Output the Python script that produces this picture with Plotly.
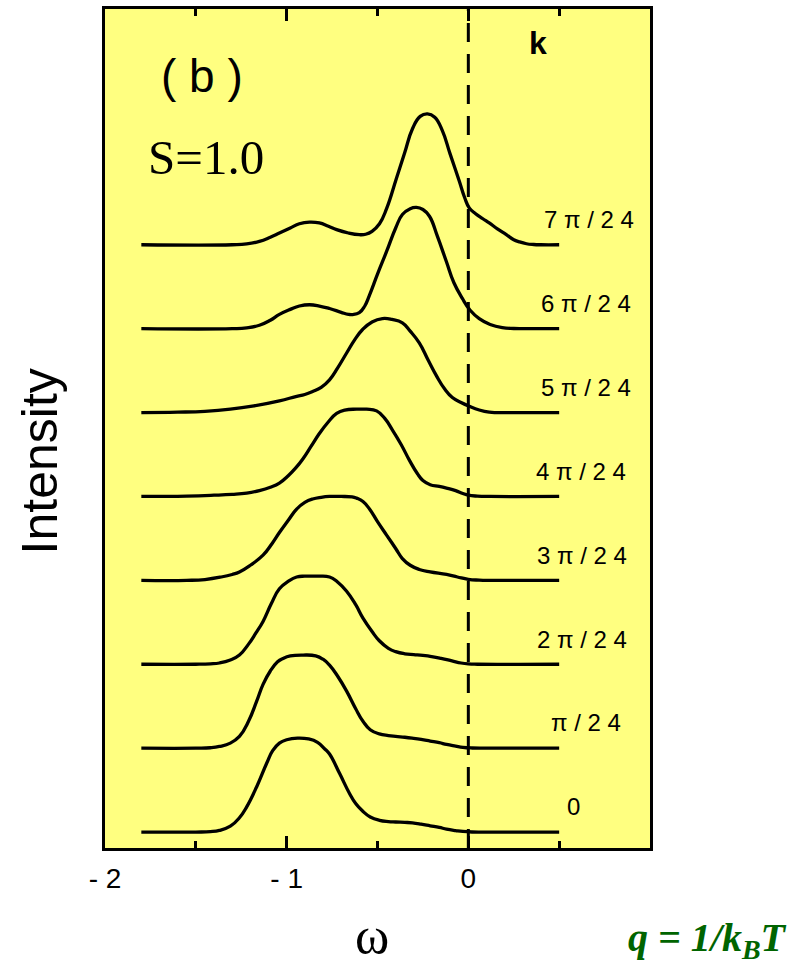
import plotly.graph_objects as go

# ---------------- data ----------------
k_labels = ["0", "π / 2 4", "2 π / 2 4", "3 π / 2 4", "4 π / 2 4",
            "5 π / 2 4", "6 π / 2 4", "7 π / 2 4"]
offsets = [0, 1, 2, 3, 4, 5, 6, 7]

omega_0 = [-1.80, -1.50, -1.42, -1.37, -1.31, -1.26, -1.22, -1.165, -1.11, -1.077, -1.04, -1.00,
           -0.94, -0.88, -0.83, -0.79, -0.764, -0.709, -0.654, -0.62, -0.582, -0.54, -0.489,
           -0.44, -0.40, -0.35, -0.308, -0.26, -0.21, -0.16, -0.12, -0.07, -0.03, 0.02, 0.10, 0.50]
inten_0 = [0, 0, 0.005, 0.02, 0.07, 0.17, 0.30, 0.54, 0.82, 0.97, 1.06, 1.10,
           1.12, 1.11, 1.07, 0.99, 0.93, 0.70, 0.46, 0.34, 0.25, 0.18, 0.14,
           0.125, 0.12, 0.115, 0.11, 0.095, 0.075, 0.055, 0.035, 0.018, 0.007, 0.001, 0, 0]

omega_1 = [-1.80, -1.50, -1.42, -1.37, -1.31, -1.26, -1.21, -1.165, -1.13, -1.09, -1.05, -1.02,
           -0.98, -0.91, -0.84, -0.80, -0.764, -0.72, -0.67, -0.62, -0.58, -0.54, -0.49,
           -0.44, -0.40, -0.35, -0.31, -0.26, -0.21, -0.16, -0.12, -0.07, -0.03, 0.02, 0.10, 0.50]
inten_1 = [0, 0, 0.005, 0.02, 0.06, 0.14, 0.32, 0.56, 0.76, 0.92, 1.03, 1.07,
           1.10, 1.11, 1.10, 1.06, 0.99, 0.86, 0.68, 0.47, 0.32, 0.22, 0.17,
           0.15, 0.14, 0.13, 0.12, 0.105, 0.085, 0.065, 0.045, 0.025, 0.01, 0.002, 0, 0]

omega_2 = [-1.80, -1.50, -1.42, -1.37, -1.31, -1.26, -1.21, -1.17, -1.13, -1.085, -1.04, -0.99,
           -0.945, -0.90, -0.83, -0.764, -0.72, -0.67, -0.62, -0.58, -0.53, -0.49, -0.44,
           -0.40, -0.35, -0.30, -0.25, -0.21, -0.15, -0.09, -0.04, 0.0, 0.05, 0.50]
inten_2 = [0, 0, 0.005, 0.015, 0.05, 0.11, 0.24, 0.37, 0.51, 0.72, 0.90, 0.99,
           1.04, 1.05, 1.05, 1.04, 0.98, 0.87, 0.71, 0.55, 0.39, 0.28, 0.19,
           0.15, 0.125, 0.115, 0.105, 0.095, 0.07, 0.04, 0.015, 0.004, 0, 0]

omega_3 = [-1.80, -1.55, -1.45, -1.36, -1.30, -1.26, -1.20, -1.13, -1.08, -1.04, -0.99, -0.945,
           -0.90, -0.857, -0.81, -0.764, -0.70, -0.64, -0.615, -0.58, -0.544, -0.50, -0.45,
           -0.40, -0.363, -0.32, -0.27, -0.21, -0.12, -0.06, 0.0, 0.06, 0.12, 0.50]
inten_3 = [0, 0, 0.01, 0.04, 0.07, 0.10, 0.18, 0.30, 0.44, 0.57, 0.72, 0.85,
           0.93, 0.97, 0.99, 1.00, 1.00, 0.995, 0.98, 0.94, 0.85, 0.70, 0.54,
           0.38, 0.26, 0.18, 0.13, 0.10, 0.07, 0.04, 0.012, 0.003, 0, 0]

omega_4 = [-1.80, -1.55, -1.40, -1.30, -1.22, -1.15, -1.09, -1.04, -0.99, -0.95, -0.91, -0.865,
           -0.82, -0.77, -0.725, -0.68, -0.615, -0.56, -0.505, -0.46, -0.42, -0.37, -0.324,
           -0.28, -0.25, -0.21, -0.16, -0.12, -0.07, -0.03, 0.0, 0.05, 0.12, 0.50]
inten_4 = [0, 0.005, 0.015, 0.025, 0.04, 0.07, 0.11, 0.16, 0.25, 0.34, 0.45, 0.60,
           0.75, 0.89, 0.99, 1.03, 1.04, 1.04, 1.02, 0.93, 0.80, 0.62, 0.43,
           0.27, 0.19, 0.14, 0.12, 0.10, 0.07, 0.035, 0.015, 0.004, 0, 0]

omega_5 = [-1.80, -1.60, -1.45, -1.31, -1.18, -1.04, -0.95, -0.90, -0.857, -0.81, -0.764, -0.72,
           -0.67, -0.625, -0.582, -0.53, -0.473, -0.42, -0.363, -0.32, -0.27, -0.22, -0.176,
           -0.13, -0.088, -0.04, 0.005, 0.06, 0.115, 0.17, 0.50]
inten_5 = [0, 0.005, 0.015, 0.04, 0.08, 0.14, 0.19, 0.215, 0.25, 0.30, 0.39, 0.53,
           0.71, 0.87, 0.99, 1.08, 1.12, 1.11, 1.07, 0.97, 0.83, 0.62, 0.44,
           0.28, 0.18, 0.12, 0.075, 0.03, 0.004, 0, 0]

omega_6 = [-1.80, -1.30, -1.22, -1.15, -1.09, -1.04, -0.98, -0.93, -0.874, -0.82, -0.764, -0.70,
           -0.66, -0.637, -0.60, -0.57, -0.544, -0.50, -0.45, -0.40, -0.363, -0.32, -0.286,
           -0.25, -0.214, -0.17, -0.121, -0.08, -0.033, 0.01, 0.06, 0.12, 0.187, 0.25, 0.30, 0.50]
inten_6 = [0, 0, 0.01, 0.04, 0.10, 0.17, 0.23, 0.27, 0.285, 0.27, 0.24, 0.195,
           0.17, 0.168, 0.19, 0.27, 0.40, 0.65, 0.92, 1.20, 1.36, 1.43, 1.445,
           1.42, 1.34, 1.10, 0.80, 0.55, 0.36, 0.22, 0.12, 0.05, 0.012, 0.002, 0, 0]

omega_7 = [-1.80, -1.30, -1.22, -1.15, -1.09, -1.04, -0.98, -0.93, -0.874, -0.82, -0.77, -0.725,
           -0.66, -0.60, -0.565, -0.53, -0.489, -0.45, -0.396, -0.35, -0.308, -0.265, -0.225,
           -0.185, -0.143, -0.10, -0.05, -0.02, 0.005, 0.04, 0.08, 0.115, 0.16, 0.209, 0.25,
           0.28, 0.32, 0.36, 0.40, 0.50]
inten_7 = [0, 0, 0.01, 0.04, 0.09, 0.14, 0.20, 0.25, 0.27, 0.26, 0.22, 0.18,
           0.14, 0.12, 0.125, 0.16, 0.25, 0.43, 0.79, 1.10, 1.38, 1.53, 1.56,
           1.52, 1.36, 1.08, 0.76, 0.56, 0.44, 0.37, 0.31, 0.26, 0.19, 0.12, 0.06,
           0.035, 0.012, 0.003, 0, 0]

omegas = [omega_0, omega_1, omega_2, omega_3, omega_4, omega_5, omega_6, omega_7]
intens = [inten_0, inten_1, inten_2, inten_3, inten_4, inten_5, inten_6, inten_7]

x_tickvals = [-2, -1, 0]
x_ticktext = ["- 2", "- 1", "0"]

# ---------------- styling / layout ----------------
W, H = 796, 965
L, R, T, B = 105, 146, 6, 117
PW, PH = W - L - R, H - T - B
YMIN, YMAX = -0.19, 9.81

def px(xp):
    return (xp - L) / PW

def py(yp):
    return (H - B - yp) / PH

label_x = [0.58, 0.648, 0.625, 0.625, 0.62, 0.65, 0.65, 0.665]  # label centres, omega units
label_dy = 0.30

fig = go.Figure()
for k, (w, it) in enumerate(zip(omegas, intens)):
    fig.add_trace(go.Scatter(
        x=w, y=[offsets[k] + v for v in it], mode="lines",
        line=dict(color="black", width=3.3, shape="spline", smoothing=1.3),
        showlegend=False, hoverinfo="skip"))

fig.add_shape(type="line", xref="x", yref="paper", x0=0, x1=0, y0=0.0, y1=1.0,
              line=dict(color="black", width=3, dash="19px,12px"))

annotations = []
for k, lab in enumerate(k_labels):
    annotations.append(dict(x=label_x[k], y=offsets[k] + label_dy, xref="x", yref="y",
                            text=lab, showarrow=False, xanchor="center", yanchor="middle",
                            font=dict(family="Liberation Sans, Arial", size=24, color="black")))

annotations += [
    dict(x=px(202), y=py(73), xref="paper", yref="paper", text="( b )", showarrow=False,
         xanchor="center", yanchor="middle",
         font=dict(family="Liberation Sans, Arial", size=46, color="black")),
    dict(x=px(206), y=py(155), xref="paper", yref="paper", text="S=1.0", showarrow=False,
         xanchor="center", yanchor="middle",
         font=dict(family="Liberation Serif, Times New Roman", size=49, color="black")),
    dict(x=px(538), y=py(40), xref="paper", yref="paper", text="<b>k</b>", showarrow=False,
         xanchor="center", yanchor="middle",
         font=dict(family="Liberation Sans, Arial", size=32, color="black")),
    dict(x=px(40), y=py(460), xref="paper", yref="paper", text="Intensity", showarrow=False,
         xanchor="center", yanchor="middle", textangle=-90,
         font=dict(family="Liberation Sans, Arial", size=50, color="black")),
    dict(x=px(372), y=py(965), xref="paper", yref="paper", text="ω", showarrow=False,
         xanchor="center", yanchor="bottom", borderpad=0,
         font=dict(family="Liberation Serif, Times New Roman", size=52, color="black")),
    dict(x=px(789), y=py(940), xref="paper", yref="paper",
         text="<b><i>q = 1/k<sub>B</sub>T</i></b>", showarrow=False,
         xanchor="right", yanchor="middle",
         font=dict(family="Liberation Serif, Times New Roman", size=40, color="#006400")),
]

fig.update_layout(
    width=W, height=H,
    margin=dict(l=L, r=R, t=T, b=B, pad=0),
    paper_bgcolor="white",
    plot_bgcolor="#FFFF80",
    annotations=annotations,
    showlegend=False,
)
fig.update_xaxes(
    range=[-2, 1], tickvals=x_tickvals, ticktext=x_ticktext,
    ticks="inside", ticklen=12, tickwidth=2.5, tickcolor="black",
    minor=dict(ticks="inside", ticklen=7, tickwidth=2.5, tickcolor="black", dtick=0.5, tick0=0),
    showline=True, linecolor="black", linewidth=3, mirror="ticks",
    showgrid=False, zeroline=False, ticklabelstandoff=3,
    tickfont=dict(family="Liberation Sans, Arial", size=28, color="black"),
)
fig.update_yaxes(
    range=[YMIN, YMAX], showticklabels=False, ticks="",
    showline=True, linecolor="black", linewidth=3, mirror=True,
    showgrid=False, zeroline=False,
)

fig.write_html("out.html")
